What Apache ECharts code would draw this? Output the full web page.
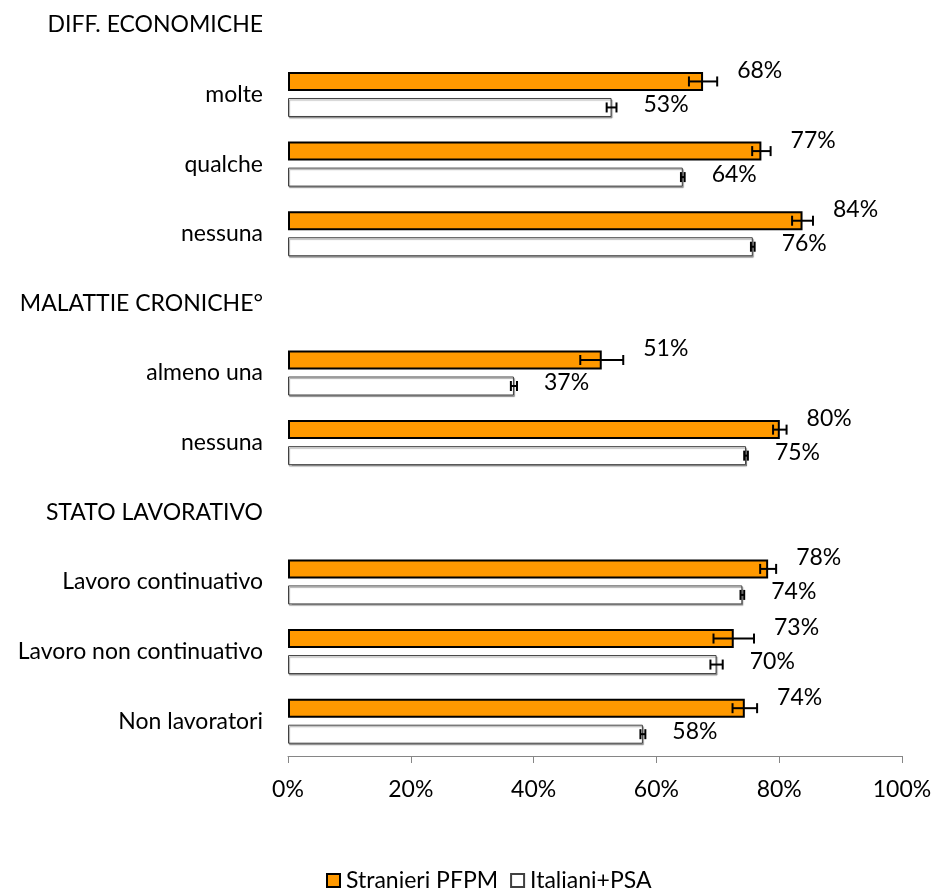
<!DOCTYPE html>
<html>
<head>
<meta charset="utf-8">
<script src="https://cdn.jsdelivr.net/npm/echarts@6/dist/echarts.min.js"></script>
<style>
  html, body { margin: 0; padding: 0; background: #fff; }
  #chart { width: 933px; height: 891px; }
</style>
</head>
<body>
<div id="chart"></div>
<script>
// ---- data ----
var categories = ['DIFF. ECONOMICHE', 'molte', 'qualche', 'nessuna',
  'MALATTIE CRONICHE°', 'almeno una', 'nessuna',
  'STATO LAVORATIVO', 'Lavoro continuativo', 'Lavoro non continuativo', 'Non lavoratori'];
var seriesNames = ['Stranieri PFPM', 'Italiani+PSA'];
var stranieri    = [null, 67.6, 77.1, 83.8, null, 51.1, 80.1, null, 78.2, 72.6, 74.4];
var stranieriErr = [null, 2.3, 1.5, 1.7, null, 3.5, 1.1, null, 1.3, 3.3, 2.0];
var italiani     = [null, 52.7, 64.3, 75.7, null, 36.8, 74.6, null, 74.0, 69.8, 57.8];
var italianiErr  = [null, 0.8, 0.3, 0.3, null, 0.5, 0.3, null, 0.3, 1.0, 0.4];
var xTicks = [0, 20, 40, 60, 80, 100];

// ---- chart ----
var FONT = 'Lato';
var chart = echarts.init(document.getElementById('chart'), null, { renderer: 'canvas' });

function errData(vals, errs) {
  var out = [];
  for (var i = 0; i < vals.length; i++) {
    if (vals[i] != null) out.push([vals[i], i, errs[i]]);
  }
  return out;
}

function makeRender(barOffset, labelDx, labelDy) {
  return function (params, api) {
    var v = api.value(0), cat = api.value(1), e = api.value(2);
    var c = api.coord([v, cat]);
    var y = c[1] + barOffset;
    var lo = api.coord([v - e, cat])[0];
    var hi = api.coord([v + e, cat])[0];
    var cap = 5;
    var ls = { stroke: '#000', lineWidth: 2 };
    return {
      type: 'group',
      children: [
        { type: 'line', shape: { x1: lo, y1: y, x2: hi, y2: y }, style: ls },
        { type: 'line', shape: { x1: lo, y1: y - cap, x2: lo, y2: y + cap }, style: ls },
        { type: 'line', shape: { x1: hi, y1: y - cap, x2: hi, y2: y + cap }, style: ls },
        { type: 'text', style: {
            x: hi + labelDx, y: y + labelDy,
            text: Math.round(v) + '%',
            font: '23px ' + FONT, fill: '#000',
            align: 'left', verticalAlign: 'middle'
        } }
      ]
    };
  };
}

var option = {
  animation: false,
  backgroundColor: '#fff',
  textStyle: { fontFamily: FONT },
  grid: { left: 288, right: 31, top: -10, bottom: 135, containLabel: false, outerBoundsMode: 'none' },
  xAxis: {
    type: 'value', min: 0, max: 100, interval: 20,
    axisLine: { show: true, lineStyle: { color: '#868686', width: 1 } },
    axisTick: { show: true, length: 7, lineStyle: { color: '#868686' } },
    splitLine: { show: false },
    axisLabel: { formatter: function (v) { return xTicks.indexOf(v) >= 0 ? v + '%' : ''; },
                 color: '#000', fontSize: 23, fontFamily: FONT, margin: 22 }
  },
  yAxis: {
    type: 'category', data: categories, inverse: true,
    axisLine: { show: false }, axisTick: { show: false },
    axisLabel: { color: '#000', fontSize: 23, fontFamily: FONT, margin: 25, interval: 0 }
  },
  legend: {
    top: 869, left: 326, padding: 0,
    itemWidth: 13, itemHeight: 13, itemGap: 12,
    icon: 'rect',
    textStyle: { color: '#000', fontSize: 23, fontFamily: FONT, padding: [0, 0, 0, 1] },
    data: seriesNames
  },
  series: [
    { name: seriesNames[0], type: 'bar', data: stranieri, barWidth: 19, barGap: '37%',
      itemStyle: { color: '#FF9900', borderColor: '#000', borderWidth: 2 } },
    { name: seriesNames[1], type: 'bar', data: italiani, barWidth: 19, barGap: '37%',
      itemStyle: { color: '#fff', borderColor: '#404040', borderWidth: 1,
                   shadowColor: 'rgba(0,0,0,0.35)', shadowOffsetX: 1, shadowOffsetY: 1.5, shadowBlur: 1 } },
    { type: 'custom', name: 'errS', data: errData(stranieri, stranieriErr),
      encode: { x: 0, y: 1 }, renderItem: makeRender(-13, 20, -11), z: 5 },
    { type: 'custom', name: 'errI', data: errData(italiani, italianiErr),
      encode: { x: 0, y: 1 }, renderItem: makeRender(13, 27, -3), z: 5 }
  ]
};
chart.setOption(option);
</script>
</body>
</html>
